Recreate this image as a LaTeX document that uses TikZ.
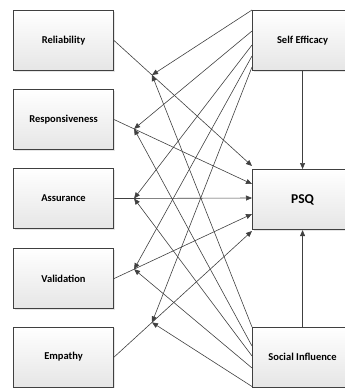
\documentclass[tikz,border=0pt]{standalone}
\usepackage{fontspec}
\setmainfont{Carlito}
\usetikzlibrary{arrows.meta,calc,shadows}
\begin{document}
\begin{tikzpicture}[x=1pt,y=-1pt,
  box/.style={draw=black!75,line width=1.1pt,top color=white,bottom color=black!10,
    minimum width=100pt,minimum height=60pt,inner sep=0pt,anchor=north west,
    font=\bfseries\fontsize{10.5}{12}\selectfont,
    drop shadow={opacity=0.2,shadow xshift=1pt,shadow yshift=-1pt}},
  bigtext/.style={font=\bfseries\fontsize{13.5}{15}\selectfont},
  conn/.style={draw=black!75,line width=0.6pt,-{Triangle[length=6pt,width=5pt]}}]
\useasboundingbox (0,0) rectangle (345,388);
% left boxes
\node[box] (rel) at (13,10) {Reliability};
\node[box] (res) at (13,89) {Responsiveness};
\node[box] (ass) at (13,168) {Assurance};
\node[box] (val) at (13,248) {Validation};
\node[box] (emp) at (13,326.5) {Empathy};
% right boxes
\node[box] (se) at (252,10) {Self Efficacy};
\node[box,bigtext] (psq) at (252,169) {PSQ};
\node[box] (si) at (252,326.5) {Social Influence};
% end points on PSQ
\coordinate (p1) at (252,166);
\coordinate (p2) at (252,184);
\coordinate (p3) at (252,198);
\coordinate (p4) at (252,214);
\coordinate (p5) at (252,231);
% start points on Self Efficacy
\coordinate (s1) at (252,10);
\coordinate (s2) at (252,31);
\coordinate (s3) at (252,45);
\coordinate (s4) at (252,56);
\coordinate (s5) at (252,67);
% start points on Social Influence
\coordinate (i1) at (252,327);
\coordinate (i2) at (252,346);
\coordinate (i3) at (252,356);
\coordinate (i4) at (252,368);
\coordinate (i5) at (252,386.5);
% moderation points
\coordinate (m1) at ($(rel.east)!0.275!(p1)$);
\coordinate (m2) at ($(res.east)!0.145!(p2)$);
\coordinate (m3) at ($(ass.east)!0.145!(p3)$);
\coordinate (m4) at ($(val.east)!0.145!(p4)$);
\coordinate (m5) at ($(emp.east)!0.275!(p5)$);
% direct paths
\draw[conn] (rel.east) -- (p1);
\draw[conn] (res.east) -- (p2);
\draw[conn] (ass.east) -- (p3);
\draw[conn] (val.east) -- (p4);
\draw[conn] (emp.east) -- (p5);
\draw[conn] (se.south) -- (psq.north);
\draw[conn] (si.north) -- (psq.south);
% moderation arrows
\draw[conn] (s1) -- (m1);
\draw[conn] (s2) -- (m2);
\draw[conn] (s3) -- (m3);
\draw[conn] (s4) -- (m4);
\draw[conn] (s5) -- (m5);
\draw[conn] (i1) -- (m1);
\draw[conn] (i2) -- (m2);
\draw[conn] (i3) -- (m3);
\draw[conn] (i4) -- (m4);
\draw[conn] (i5) -- (m5);
\end{tikzpicture}
\end{document}
